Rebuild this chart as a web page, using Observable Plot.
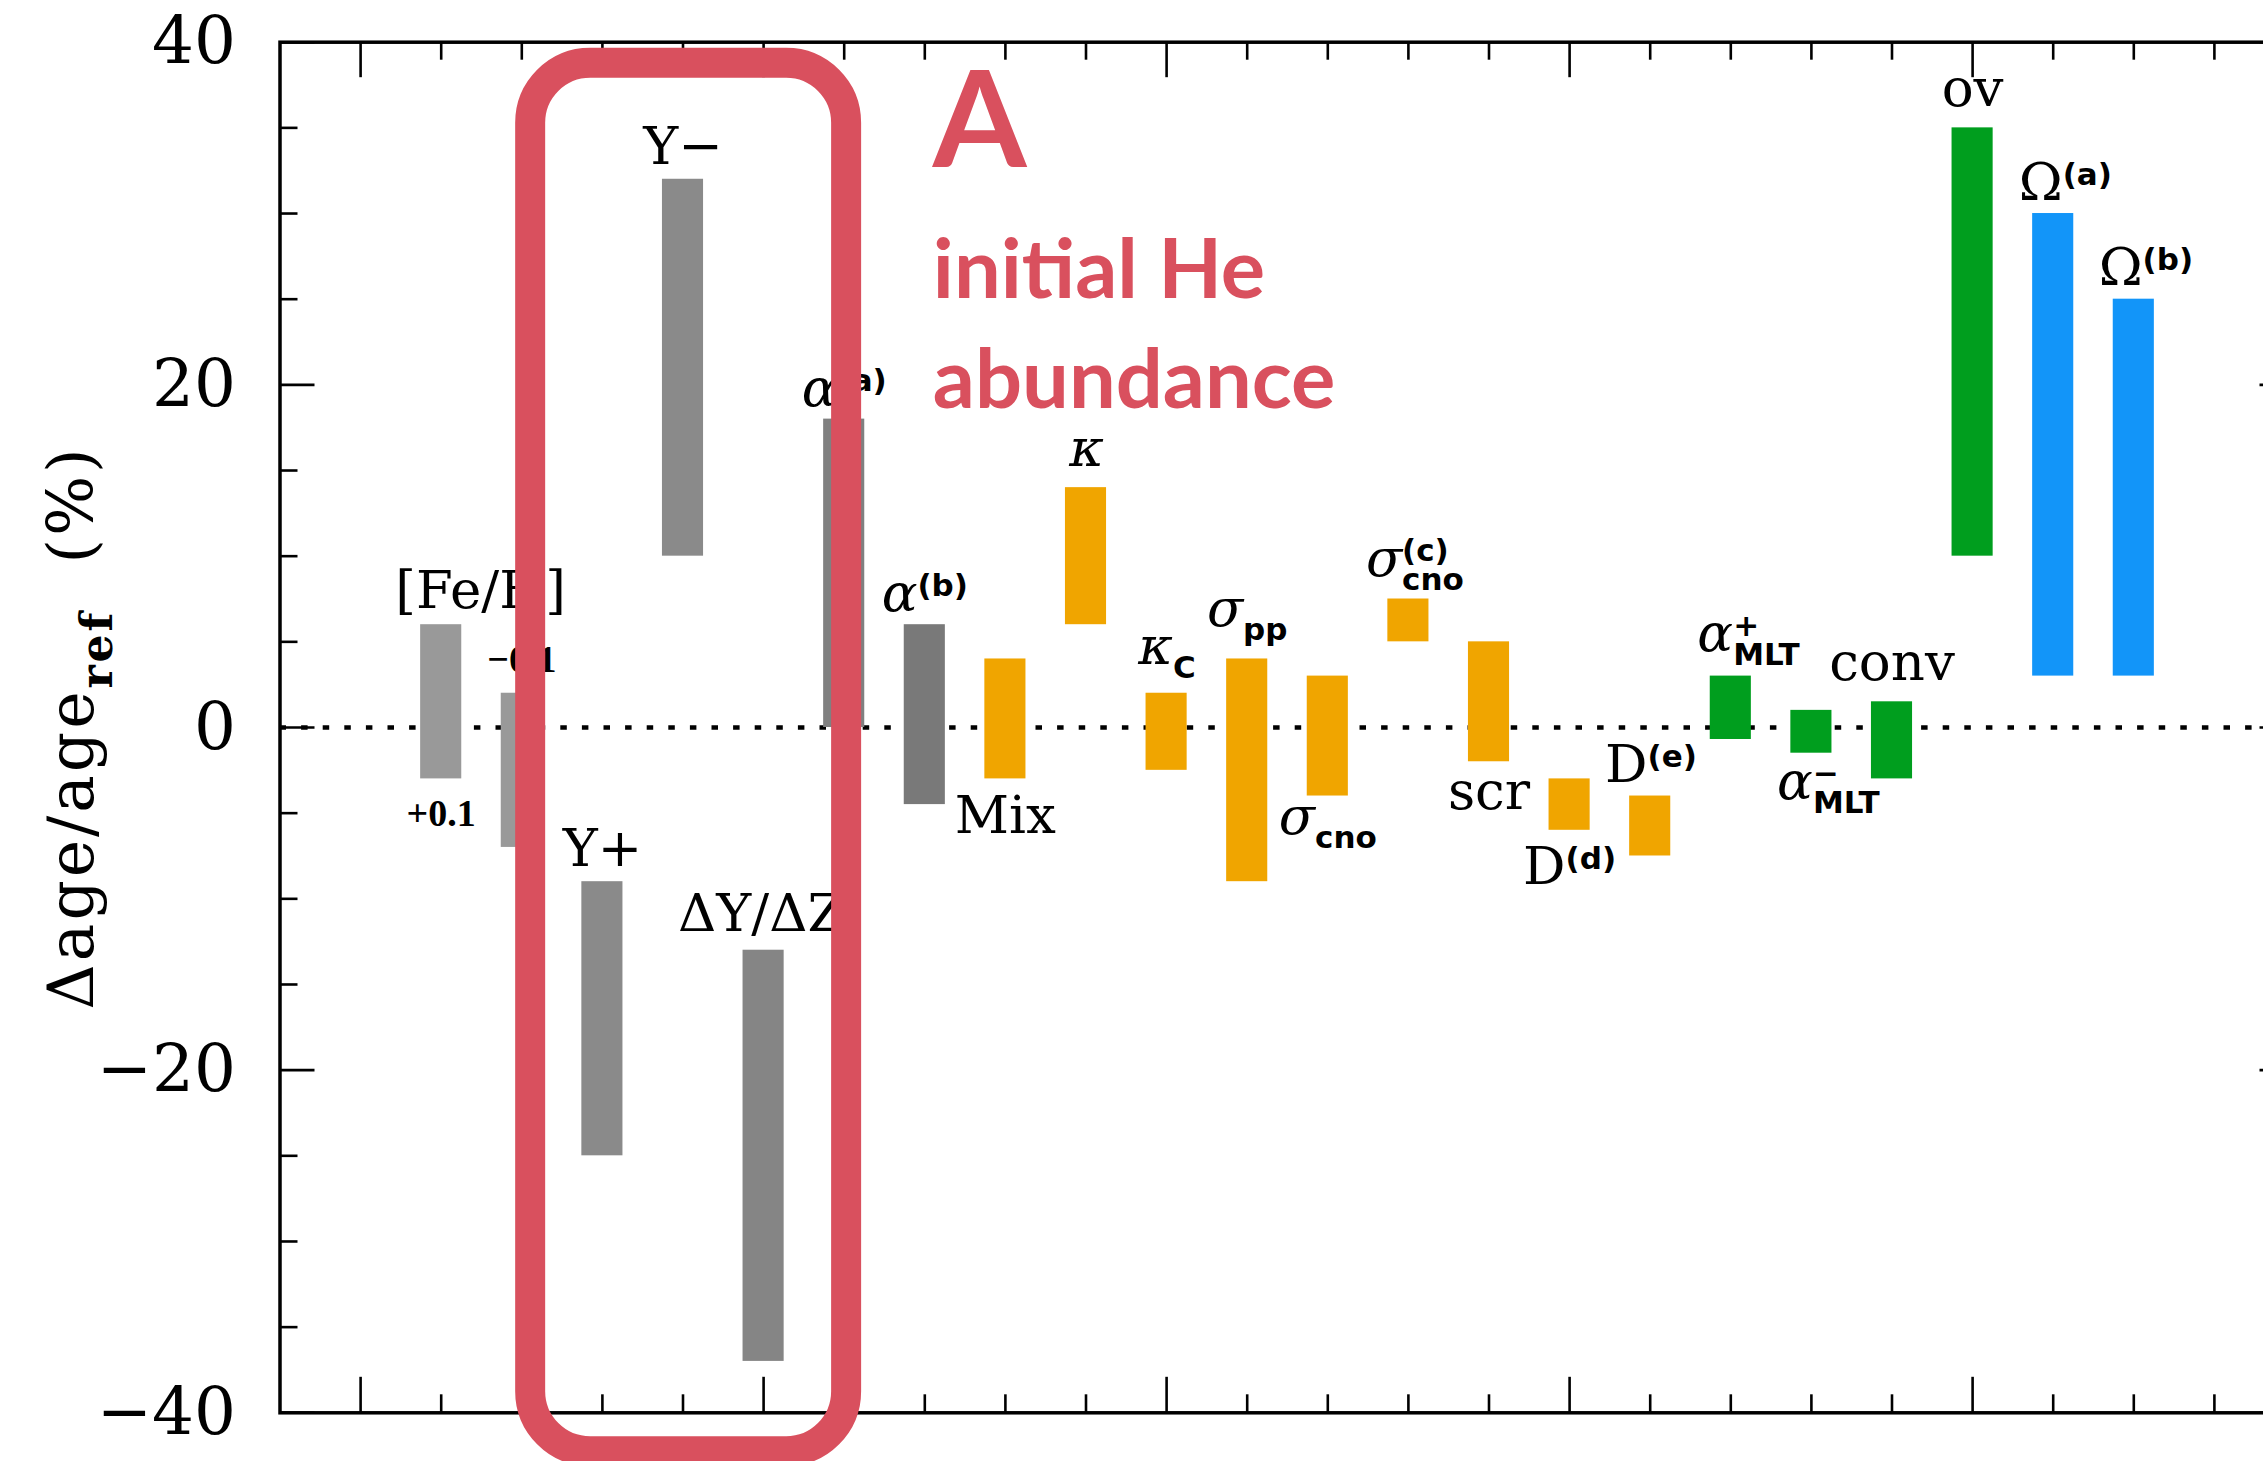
<!DOCTYPE html>
<html>
<head>
<meta charset="utf-8">
<script src="https://cdn.jsdelivr.net/npm/d3@7"></script>
<script src="https://cdn.jsdelivr.net/npm/@observablehq/plot@0.6"></script>
<style>
html, body { margin: 0; padding: 0; background: #fff; overflow: hidden; }
#chart svg { display: block; max-width: none; }
</style>
</head>
<body>
<div id="chart"></div>
<script>
// ---------- data ----------
const categories = ["[Fe/H]+0.1", "[Fe/H]−0.1", "Y+", "Y−", "ΔY/ΔZ", "α(a)", "α(b)", "Mix", "κ", "κC",
  "σpp", "σcno", "σcno(c)", "scr", "D(d)", "D(e)", "α+MLT", "α−MLT", "conv", "ov", "Ω(a)", "Ω(b)"];
const lowValues  = [-3, -7, -25, 10, -37, 0, -4.5, -3, 6, -2.5, -9, -4, 5, -2, -6, -7.5, -0.7, -1.5, -3, 10, 3, 3];
const highValues = [ 6,  2,  -9, 32, -13, 18, 6, 4, 14, 2, 4, 3, 7.5, 5, -3, -4, 3, 1, 1.5, 35, 30, 25];
const groups = ["feh", "feh", "he", "he", "dydz", "alphaA", "alphaB",
  "micro", "micro", "micro", "micro", "micro", "micro", "micro", "micro", "micro",
  "macro", "macro", "macro", "macro", "rot", "rot"];
const groupNames  = ["feh", "he", "dydz", "alphaA", "alphaB", "micro", "macro", "rot"];
const groupColors = ["#999999", "#8a8a8a", "#858585", "#808080", "#797979", "#F0A500", "#009E1E", "#1295F9"];

// bar labels (markup: *{} italic, _{} subscript, ^{} superscript)
const labelTexts = ["[Fe/H]", "Y+", "Y−", "ΔY/ΔZ", "*{α}^{(a)}", "*{α}^{(b)}", "Mix", "*{κ}", "*{κ}_{C}",
  "*{σ}_{pp}", "*{σ}_{cno}", "*{σ}_{cno}^{(c)}", "scr", "D^{(d)}", "D^{(e)}", "*{α}_{MLT}^{+}",
  "*{α}_{MLT}^{−}", "conv", "ov", "Ω^{(a)}", "Ω^{(b)}"];
const labelX = [1.49, 3, 4, 4.97, 6, 7, 8, 9, 10, 11, 12, 13.08, 14, 15, 16.01, 17.22, 18.21, 19, 20, 21.15, 22.15];
const labelY = [7.0, -8.1, 32.9, -11.9, 18.76, 6.8, -6.14, 15.26, 3.7, 5.9, -6.2, 8.84, -4.75, -9.15, -3.2,
  4.46, -4.19, 2.8, 36.3, 30.8, 25.8];

const smallTexts = ["+0.1", "−0.1"];
const smallX = [1, 2];
const smallY = [-5.75, 3.25];

const yTitle = "Δage/age_{ref}  (%)";
const yLabelTicks = [-40, -20, 0, 20, 40];
const yMajorTicks = [-40, -20, 0, 20, 40];
const yMinorTicks = [-35, -30, -25, -15, -10, -5, 5, 10, 15, 25, 30, 35];
const xMajorTicks = [0, 5, 10, 15, 20];
const xMinorTicks = [1, 2, 3, 4, 6, 7, 8, 9, 11, 12, 13, 14, 16, 17, 18, 19, 21, 22, 23];

// highlight annotation: [x1, x2, y1, y2] in data units
const highlightBox = [2.11, 6.03, -42.27, 38.77];
const noteTexts = ["initial He", "abundance"];
const noteY = [25.08, 18.66];
const noteLetter = "A";
const noteLetterY = 32.7;
const noteX = 7.1;

// ---------- layout ----------
const W = 2263, H = 1461;
const mL = 279.5, mT = 41.7, mB = 48.7, mR = -31.5;
const frameW = W - mL - mR;
const frameH = H - mT - mB;
const RED = "#D9505E";

const bars = categories.map((c, i) => ({name: c, x: i + 1, lo: lowValues[i], hi: highValues[i], group: groups[i]}));
const labels = labelTexts.map((t, i) => ({t, x: labelX[i], y: labelY[i]}));
const smalls = smallTexts.map((t, i) => ({t, x: smallX[i], y: smallY[i]}));
const notes = noteTexts.map((t, i) => ({t, y: noteY[i]}));
const box = [{x1: highlightBox[0], x2: highlightBox[1], y1: highlightBox[2], y2: highlightBox[3]}];

const plot = Plot.plot({
  width: W, height: H,
  marginLeft: mL, marginRight: mR, marginTop: mT, marginBottom: mB,
  x: {domain: [-1, 24], axis: null},
  y: {domain: [-40, 40]},
  color: {type: "ordinal", domain: groupNames, range: groupColors},
  style: {background: "white", overflow: "hidden"},
  marks: [
    Plot.ruleY([0], {stroke: "black", strokeWidth: 4.6, strokeDasharray: "6.5 15.1"}),
    Plot.rect(bars, {x1: d => d.x - 0.255, x2: d => d.x + 0.255, y1: "lo", y2: "hi", fill: "group"}),
    // inward ticks
    Plot.tickY(yMajorTicks, {y: d => d, insetRight: frameW - 35, strokeWidth: 2.6}),
    Plot.tickY(yMinorTicks, {y: d => d, insetRight: frameW - 18, strokeWidth: 2.6}),
    Plot.tickY(yMajorTicks, {y: d => d, insetLeft: frameW - 35, strokeWidth: 2.6}),
    Plot.tickY(yMinorTicks, {y: d => d, insetLeft: frameW - 18, strokeWidth: 2.6}),
    Plot.tickX(xMajorTicks, {x: d => d, insetTop: frameH - 35.5, strokeWidth: 2.6}),
    Plot.tickX(xMinorTicks, {x: d => d, insetTop: frameH - 18, strokeWidth: 2.6}),
    Plot.tickX(xMajorTicks, {x: d => d, insetBottom: frameH - 35.5, strokeWidth: 2.6}),
    Plot.tickX(xMinorTicks, {x: d => d, insetBottom: frameH - 18, strokeWidth: 2.6}),
    Plot.frame({stroke: "black", strokeWidth: 3.5}),
    Plot.axisY({ticks: yLabelTicks, tickSize: 0, tickPadding: 44, fontSize: 66, fontFamily: "DejaVu Serif", label: null}),
    Plot.text(labels, {x: "x", y: "y", text: "t", fontSize: 53, fontFamily: "DejaVu Serif", lineAnchor: "bottom", fill: "black"}),
    Plot.text(smalls, {x: "x", y: "y", text: "t", fontSize: 38, fontFamily: "Liberation Serif", fontWeight: 700, lineAnchor: "bottom", fill: "black"}),
    Plot.text([yTitle], {text: d => d, frameAnchor: "left", rotate: -90, dx: -187.5, lineAnchor: "bottom",
      fontSize: 63, fontFamily: "DejaVu Serif", fill: "black"}),
    Plot.rect(box, {x1: "x1", x2: "x2", y1: "y1", y2: "y2", fill: "none", stroke: RED, strokeWidth: 30, rx: 60}),
    Plot.text([noteLetter], {text: d => d, x: noteX, y: noteLetterY, textAnchor: "start", lineAnchor: "bottom",
      fontSize: 135, fontFamily: "Lato", fontWeight: 700, fill: RED}),
    Plot.text(notes, {text: "t", x: noteX, y: "y", textAnchor: "start", lineAnchor: "bottom",
      fontSize: 83, fontFamily: "Lato", fontWeight: 700, fill: RED})
  ]
});

document.getElementById("chart").appendChild(plot);

// ---------- rich text (sub/superscripts) ----------
const NS = "http://www.w3.org/2000/svg";
plot.querySelectorAll("text").forEach(el => {
  const src = el.textContent;
  if (!/[_^*]\{/.test(src)) return;
  const isTitle = src.startsWith("Δage");
  const small = isTitle ? 44 : 31;
  const subShift = isTitle ? 19 : 14;
  const supShift = 15;
  el.textContent = "";
  const re = /([_^*])\{([^}]*)\}|([^_^*]+)/g;
  let m, level = 0, lastSubWidth = 0, prevSub = false;
  while ((m = re.exec(src))) {
    const t = document.createElementNS(NS, "tspan");
    let target = 0;
    if (m[3] != null) {
      t.textContent = m[3];
    } else if (m[1] === "*") {
      t.textContent = m[2];
      t.setAttribute("font-style", "italic");
    } else {
      t.textContent = m[2];
      target = m[1] === "_" ? subShift : -supShift;
      t.setAttribute("font-size", small);
      if (isTitle) {
        t.setAttribute("font-weight", "bold");
      } else {
        t.setAttribute("font-family", "DejaVu Sans");
        t.setAttribute("font-weight", "bold");
      }
    }
    const dy = target - level;
    if (dy) t.setAttribute("dy", dy);
    if (m[1] === "^" && prevSub) t.setAttribute("dx", -lastSubWidth);
    el.appendChild(t);
    if (m[1] === "_") { lastSubWidth = t.getComputedTextLength(); prevSub = true; } else prevSub = false;
    level = target;
  }
  if (isTitle) el.setAttribute("letter-spacing", "3");
  el.setAttribute("text-anchor", "start");
  const b = el.getBBox();
  el.setAttribute("x", -(b.x + b.width / 2));
});
</script>
</body>
</html>
